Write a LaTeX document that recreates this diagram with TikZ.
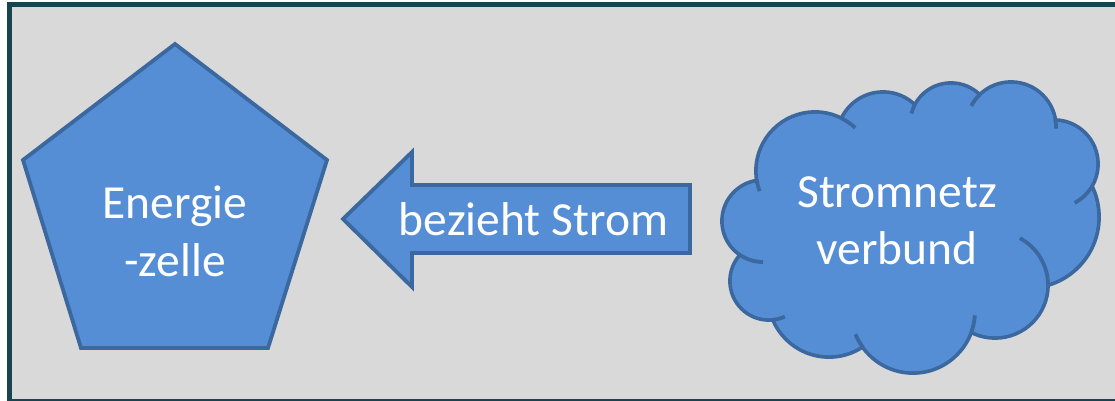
\documentclass[tikz,border=0pt]{standalone}
\usepackage{fontspec}
\setmainfont{Carlito}
\definecolor{bgray}{RGB}{217,217,217}
\definecolor{framecol}{RGB}{24,68,80}
\definecolor{shapefill}{RGB}{85,142,213}
\definecolor{shapeline}{RGB}{60,104,160}
\begin{document}
\begin{tikzpicture}[x=1pt,y=-1pt,
  blockshape/.style={fill=shapefill, draw=shapeline, line width=3.8pt, line join=miter},
  cloudline/.style={draw=shapeline, line width=3.8pt, line cap=butt},
  lbl/.style={text=white, font=\fontsize{47.5}{58}\selectfont, align=center, inner sep=0pt}]
\useasboundingbox (0,0) rectangle (1115,400);
\fill[white] (0,0) rectangle (1115,400);
\draw[fill=bgray, draw=framecol, line width=5pt] (9.5,4.5) rectangle (1121,401);
% pentagon
\draw[blockshape] (175,44) -- (327,160) -- (268,348) -- (81,348) -- (23,160) -- cycle;
% arrow
\draw[blockshape] (343,219) -- (412,152) -- (412,185) -- (690,185) -- (690,253) -- (412,253) -- (412,287) -- cycle;
% cloud: outline of union of circles
\foreach \cx/\cy/\r in {815/171/59, 883/138/46, 951/124/41, 1011/127/45, 1054/164/44, 1028/217/71, 995/285/53, 913/311/62, 829/296/61, 769/281/39, 763/221/41}
  \draw[blockshape] (\cx,\cy) circle[radius=\r];
\foreach \cx/\cy/\r in {815/171/59, 883/138/46, 951/124/41, 1011/127/45, 1054/164/44, 1028/217/71, 995/285/53, 913/311/62, 829/296/61, 769/281/39, 763/221/41}
  \fill[shapefill] (\cx,\cy) circle[radius=\r-1.9];
\fill[shapefill] (850,125) -- (915,115) -- (975,104) -- (1048,126) -- (1082,189) -- (1039,280) -- (967,323) -- (867,338) -- (781,313) -- (750,254) -- (767,183) -- cycle;
% inner arcs of the cloud
\draw[cloudline] (815,171) ++(171:59) arc[start angle=171, end angle=160, radius=59];
\draw[cloudline] (815,171) ++(-63:59) arc[start angle=-63, end angle=-47, radius=59];
\draw[cloudline] (951,124) ++(-152:41) arc[start angle=-152, end angle=-165, radius=41];
\draw[cloudline] (1011,127) ++(-134:45) arc[start angle=-134, end angle=-152, radius=45];
\draw[cloudline] (1011,127) ++(-9:45) arc[start angle=-9, end angle=2, radius=45];
\draw[cloudline] (1054,164) ++(31:44) arc[start angle=31, end angle=62, radius=44];
\draw[cloudline] (995,285) ++(0:53) arc[start angle=0, end angle=-62, radius=53];
\draw[cloudline] (913,311) ++(20:62) arc[start angle=20, end angle=4, radius=62];
\draw[cloudline] (913,311) ++(144:62) arc[start angle=144, end angle=158, radius=62];
\draw[cloudline] (769,281) ++(84:39) arc[start angle=84, end angle=66, radius=39];
\draw[cloudline] (763,221) ++(124:41) arc[start angle=124, end angle=90, radius=41];
% texts
\node[lbl] (energie) at (175,231.5) {Energie\\-zelle};
\node[lbl, anchor=base] (strom) at (533.5,235) {bezieht Strom};
\node[lbl, font=\fontsize{47.5}{57}\selectfont] (netz) at (897,221) {Stromnetz\\verbund};
\end{tikzpicture}
\end{document}
